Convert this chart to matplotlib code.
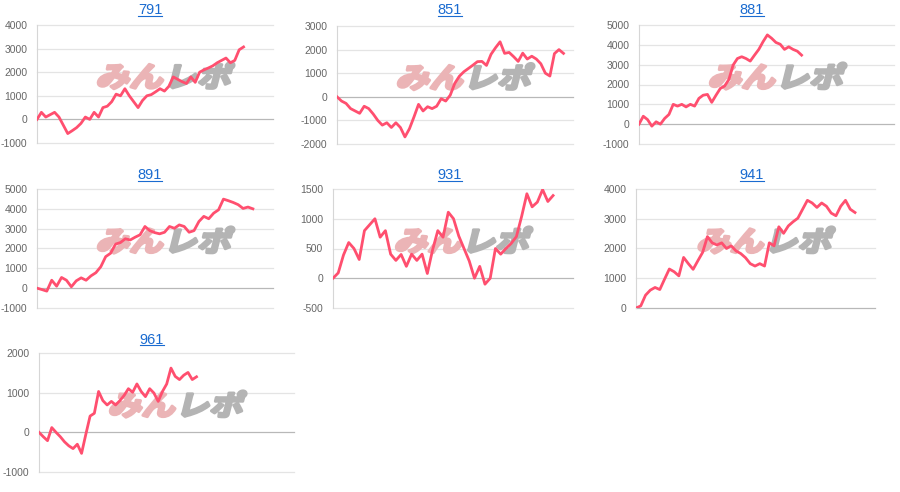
import numpy as np
import matplotlib
matplotlib.use('Agg')
import matplotlib.pyplot as plt
from matplotlib.textpath import TextPath
from matplotlib.patches import PathPatch
from matplotlib.font_manager import FontProperties
from matplotlib.transforms import Affine2D
from matplotlib.lines import Line2D

plt.rcParams['font.family'] = ['Liberation Sans', 'DejaVu Sans']
plt.rcParams['axes.unicode_minus'] = False

# ---- data ----
titles = ["791", "851", "881", "891", "931", "941", "961"]

s791 = [0, 300, 100, 200, 300, 100, -250, -600, -480, -350, -170, 100, 0, 300, 100,
        500, 560, 750, 1070, 1000, 1300, 1000, 750, 500, 800, 1000, 1050, 1170, 1300,
        1200, 1400, 1800, 1700, 1600, 1520, 1800, 1570, 2000, 2100, 2180, 2270, 2400,
        2500, 2600, 2400, 2500, 2950, 3070]
s851 = [0, -180, -280, -500, -600, -700, -400, -500, -730, -1000, -1200, -1100, -1300,
        -1100, -1300, -1700, -1350, -850, -320, -600, -420, -500, -400, -80, -180, 70,
        570, 870, 1060, 1200, 1340, 1490, 1500, 1330, 1800, 2080, 2330, 1840, 1880, 1700,
        1500, 1850, 1600, 1720, 1600, 1400, 1000, 880, 1830, 2000, 1840]
s881 = [0, 400, 230, -100, 120, 0, 290, 490, 1000, 910, 1000, 870, 1000, 910, 1300,
        1460, 1500, 1100, 1460, 1800, 1920, 2250, 2980, 3310, 3400, 3310, 3180, 3480,
        3770, 4160, 4500, 4330, 4120, 4030, 3770, 3900, 3770, 3680, 3480]
s891 = [0, -70, -150, 400, 100, 540, 400, 70, 370, 520, 400, 620, 780, 1080, 1590, 1760,
        2220, 2300, 2490, 2430, 2570, 2690, 3110, 2900, 2800, 2740, 2820, 3110, 3020,
        3190, 3110, 2820, 2900, 3360, 3620, 3500, 3780, 3950, 4490, 4410, 4320, 4210,
        4020, 4090, 4000]
s931 = [0, 90, 390, 600, 500, 315, 800, 900, 1000, 690, 800, 405, 300, 400, 200, 405,
        300, 405, 80, 475, 800, 690, 1110, 1000, 710, 500, 290, 0, 200, -100, 0, 500,
        405, 500, 585, 700, 1040, 1420, 1200, 1280, 1490, 1290, 1390]
s941 = [0, 70, 430, 600, 690, 620, 970, 1310, 1220, 1080, 1700, 1490, 1300, 1590, 1870,
        2400, 2190, 2120, 2190, 2000, 2090, 1920, 1830, 1690, 1490, 1410, 1490, 1410,
        2190, 2090, 2730, 2510, 2760, 2900, 3020, 3320, 3620, 3530, 3380, 3530, 3420,
        3190, 3100, 3420, 3620, 3320, 3210]
s961 = [0, -110, -210, 120, 0, -110, -240, -340, -410, -300, -530, -50, 410, 480, 1030,
        800, 690, 780, 690, 800, 930, 1100, 1010, 1220, 1030, 900, 1100, 990, 780, 1030,
        1220, 1620, 1410, 1330, 1440, 1510, 1330, 1400]
series = [s791, s851, s881, s891, s931, s941, s961]

yticks = [
    [-1000, 0, 1000, 2000, 3000, 4000],
    [-2000, -1000, 0, 1000, 2000, 3000],
    [-1000, 0, 1000, 2000, 3000, 4000, 5000],
    [-1000, 0, 1000, 2000, 3000, 4000, 5000],
    [-500, 0, 500, 1000, 1500],
    [0, 1000, 2000, 3000, 4000],
    [-1000, 0, 1000, 2000],
]

# ---- layout (pixels: left, right, top, bottom) ----
W, H = 900, 492
boxes = [(37, 273, 25, 143), (337, 573, 26, 144), (639, 894, 25, 144),
         (37, 273, 189, 308), (333, 573, 189, 308), (636, 875, 189, 308),
         (39, 294, 353, 472)]
xmax = [53.7, 52.1, 59.6, 48.1, 45.8, 50.2, 59.9]
title_pos = [(150, 14.5), (450, 14.5), (752, 14.5),
             (150, 179), (450, 179), (752, 179), (152, 343.5)]

LINE = '#FF4F6F'
TITLE = '#1a6bd0'

fig = plt.figure(figsize=(W / 100, H / 100), dpi=100)
fp = FontProperties(family='Noto Sans CJK JP', weight='bold')

for i, vals in enumerate(series):
    l, r, t, b = boxes[i]
    ax = fig.add_axes([l / W, 1 - b / H, (r - l) / W, (b - t) / H])
    ax.set_facecolor('none')
    x = np.arange(len(vals))
    ax.plot(x, vals, color=LINE, lw=2.0, solid_joinstyle='round', zorder=3)
    ax.set_xlim(0, xmax[i])
    ax.set_ylim(yticks[i][0], yticks[i][-1])
    ax.set_yticks(yticks[i])
    ax.set_xticks([])
    ax.tick_params(axis='y', length=0, pad=7, labelsize=7.5, labelcolor='#666666')
    for s in ['top', 'right', 'bottom']:
        ax.spines[s].set_visible(False)
    ax.spines['left'].set_color('#d6d6d6')
    ax.spines['left'].set_linewidth(0.8)
    for tv in yticks[i]:
        ax.axhline(tv, color='#b8b8b8' if tv == 0 else '#e4e4e4', lw=0.9,
                   zorder=1, clip_on=False)

    # watermark (fake bold via stroke, fake italic via skew)
    cx = l + 0.53 * (r - l)
    cy = H - (b - 0.57 * (b - t))
    p1 = TextPath((0, 0), "みん", size=28, prop=fp)
    p2 = TextPath((0, 0), "レポ", size=28, prop=fp)
    sx = 1.2
    w1 = p1.get_extents().x1 * sx
    w2 = p2.get_extents().x1 * sx
    total = w1 + 2 + w2
    x0 = cx - total / 2
    y0 = cy - 11
    tr1 = Affine2D().scale(sx, 1.0).skew_deg(14, 0).translate(x0, y0)
    tr2 = Affine2D().scale(sx, 1.0).skew_deg(14, 0).translate(x0 + w1 + 2, y0)
    ax.add_patch(PathPatch(p1, transform=tr1, facecolor='#ebb4b6', edgecolor='#ebb4b6',
                           lw=2.2, joinstyle='round', zorder=2, clip_on=False))
    ax.add_patch(PathPatch(p2, transform=tr2, facecolor='#b4b4b4', edgecolor='#b4b4b4',
                           lw=2.2, joinstyle='round', zorder=2, clip_on=False))

    # underlined title
    tx, ty = title_pos[i]
    txt = fig.text(tx / W, 1 - ty / H, titles[i], ha='center', va='baseline',
                   fontsize=10.5, color=TITLE)
    bb = txt.get_window_extent(fig.canvas.get_renderer())
    uy = 1 - (ty + 1.5) / H
    fig.add_artist(Line2D([bb.x0 / W, bb.x1 / W], [uy, uy], transform=fig.transFigure,
                          color=TITLE, lw=0.8))

fig.savefig('out.png', dpi=100)
